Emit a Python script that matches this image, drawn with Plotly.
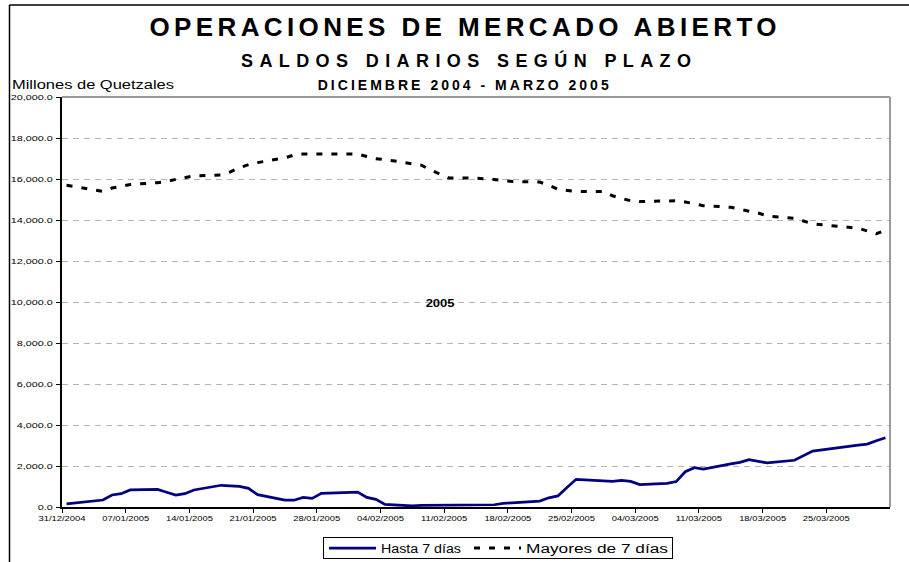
import plotly.graph_objects as go
import pandas as pd

# ---------------- data ----------------
dates = [
    "2004-12-31",
    "2005-01-03", "2005-01-04", "2005-01-05", "2005-01-06", "2005-01-07",
    "2005-01-10", "2005-01-11", "2005-01-12", "2005-01-13", "2005-01-14",
    "2005-01-17", "2005-01-18", "2005-01-19", "2005-01-20", "2005-01-21",
    "2005-01-24", "2005-01-25", "2005-01-26", "2005-01-27", "2005-01-28",
    "2005-01-31",
    "2005-02-01", "2005-02-02", "2005-02-03", "2005-02-04",
    "2005-02-07", "2005-02-08", "2005-02-09", "2005-02-10", "2005-02-11",
    "2005-02-14", "2005-02-15", "2005-02-16", "2005-02-17", "2005-02-18",
    "2005-02-21", "2005-02-22", "2005-02-23", "2005-02-24", "2005-02-25",
    "2005-02-28",
    "2005-03-01", "2005-03-02", "2005-03-03", "2005-03-04",
    "2005-03-07", "2005-03-08", "2005-03-09", "2005-03-10", "2005-03-11",
    "2005-03-14", "2005-03-15", "2005-03-16", "2005-03-17", "2005-03-18",
    "2005-03-21", "2005-03-22", "2005-03-23",
    "2005-03-28", "2005-03-29", "2005-03-30", "2005-03-31",
]

hasta = [
    150,
    295, 340, 585, 650, 830,
    860, 720, 585, 650, 830,
    1060, 1040, 1010, 910, 600,
    340, 330, 470, 420, 670,
    715,
    730, 470, 375, 130,
    50, 80, 85, 90, 95,
    100, 100, 110, 180, 210,
    290, 450, 540, 950, 1350,
    1270,
    1250, 1300, 1250, 1090,
    1150, 1240, 1720, 1920, 1850,
    2100, 2180, 2310, 2230, 2150,
    2280, 2500, 2730,
    3020, 3070, 3230, 3380,
]

mayores = [
    15700,
    15450, 15400, 15560, 15660, 15730,
    15820, 15880, 15980, 16080, 16150,
    16200, 16350, 16550, 16700, 16800,
    17030, 17170, 17220, 17220, 17220,
    17250,
    17220, 17100, 16990, 16950,
    16760, 16670, 16440, 16230, 16050,
    16040, 16020, 15980, 15920, 15880,
    15850, 15700, 15500, 15430, 15390,
    15390,
    15180, 15050, 14940, 14900,
    14920, 14940, 14880, 14800, 14700,
    14620, 14530, 14440, 14340, 14200,
    14080, 13950, 13810,
    13600, 13480, 13330, 13500,
]

series_names = ["Hasta 7 días", "Mayores de 7 días"]

xtick_dates = [
    "2004-12-31", "2005-01-07", "2005-01-14", "2005-01-21", "2005-01-28",
    "2005-02-04", "2005-02-11", "2005-02-18", "2005-02-25", "2005-03-04",
    "2005-03-11", "2005-03-18", "2005-03-25",
]
xtick_labels = [
    "31/12/2004", "07/01/2005", "14/01/2005", "21/01/2005", "28/01/2005",
    "04/02/2005", "11/02/2005", "18/02/2005", "25/02/2005", "04/03/2005",
    "11/03/2005", "18/03/2005", "25/03/2005",
]
ytick_vals = [0, 2000, 4000, 6000, 8000, 10000, 12000, 14000, 16000, 18000, 20000]

title_text = "OPERACIONES DE MERCADO ABIERTO"
subtitle_text = "SALDOS DIARIOS SEGÚN PLAZO"
period_text = "DICIEMBRE 2004 - MARZO 2005"
unit_text = "Millones de Quetzales"
year_text = "2005"

# ---------------- layout geometry ----------------
W, H = 909, 562
L, R, T, B = 62, 19, 97, 55
PW = W - L - R
PH = H - T - B


def px(x):
    return (x - L) / PW


def py(y):
    return (H - B - y) / PH


FONT = "Arial, Liberation Sans, sans-serif"

# points sit in the middle of their day (Excel date axis)
x = pd.to_datetime(dates) + pd.Timedelta(hours=12)

fig = go.Figure()
fig.add_trace(go.Scatter(
    x=x, y=hasta, mode="lines", name=series_names[0],
    line=dict(color="#000080", width=2.75),
))
fig.add_trace(go.Scatter(
    x=x, y=mayores, mode="lines", name=series_names[1],
    line=dict(color="#000000", width=3, dash="6px,9px"),
))

annotations = [
    dict(text="<b>%s</b>" % title_text, x=px(463), y=py(27), font=dict(size=26)),
    dict(text="<b>%s</b>" % subtitle_text, x=px(466), y=py(61), font=dict(size=18)),
    dict(text="<b>%s</b>" % period_text, x=px(463), y=py(85), font=dict(size=14)),
    dict(text=unit_text, x=px(10), y=py(85), xanchor="left", align="left", font=dict(size=12)),
    dict(text="<b>%s</b>" % year_text, x=px(440), y=py(303), font=dict(size=10)),
]
for a in annotations:
    a.update(xref="paper", yref="paper", showarrow=False)
    a.setdefault("xanchor", "center")
    a["yanchor"] = "middle"
    a["font"].update(family=FONT, color="black")

shapes = [
    # plot-area border (top and right, grey)
    dict(type="line", xref="paper", yref="paper", x0=0, x1=1, y0=1, y1=1,
         line=dict(color="#9a9a9a", width=2)),
    dict(type="line", xref="paper", yref="paper", x0=1, x1=1, y0=0, y1=1,
         line=dict(color="#9a9a9a", width=2)),
    # chart-area border (left and top, black)
    dict(type="line", xref="paper", yref="paper", x0=px(9.5), x1=px(9.5), y0=py(5), y1=py(575),
         line=dict(color="black", width=1.5)),
    dict(type="line", xref="paper", yref="paper", x0=px(9.5), x1=px(925), y0=py(5), y1=py(5),
         line=dict(color="black", width=1.5)),
]

fig.update_layout(
    width=W, height=H,
    margin=dict(l=L, r=R, t=T, b=B, pad=0, autoexpand=False),
    paper_bgcolor="white", plot_bgcolor="white",
    font=dict(family=FONT, color="black"),
    showlegend=True,
    legend=dict(
        orientation="h",
        xref="container", yref="container",
        x=498 / W, xanchor="center", y=(H - 537) / H, yanchor="top",
        bordercolor="black", borderwidth=1, bgcolor="white",
        font=dict(size=12.5, family=FONT, color="black"),
        itemwidth=47,
    ),
    annotations=annotations,
    shapes=shapes,
    xaxis=dict(
        type="date",
        range=["2004-12-31", "2005-04-01"],
        tickmode="array", tickvals=xtick_dates, ticktext=xtick_labels,
        ticks="outside", ticklen=4, tickwidth=1, tickcolor="black",
        showline=True, linecolor="black", linewidth=1.5,
        showgrid=False, zeroline=False,
        tickfont=dict(size=7, family=FONT, color="black"),
    ),
    yaxis=dict(
        range=[0, 20000],
        tickmode="array", tickvals=ytick_vals, tickformat=",.1f",
        ticks="outside", ticklen=4, tickwidth=1, tickcolor="black",
        showline=True, linecolor="black", linewidth=1.5,
        showgrid=True, gridcolor="#b4b4b4", gridwidth=1, griddash="6px,5px",
        zeroline=False,
        tickfont=dict(size=7.5, family=FONT, color="black"),
        ticklabelstandoff=2,
    ),
)

post_script = """
document.body.style.margin = '0';
var gd = document.getElementById('{plot_id}');
function fit(sel, k){
  gd.querySelectorAll(sel).forEach(function(t){
    var w = t.getComputedTextLength();
    if (w > 0) { t.setAttribute('textLength', (w*k).toFixed(2)); t.setAttribute('lengthAdjust', 'spacingAndGlyphs'); }
  });
}
fit('.xtick text', 1.34);
fit('.ytick text', 1.44);
var targets = {
  'OPERACIONES DE MERCADO ABIERTO': [627, 'spacing'],
  'SALDOS DIARIOS SEGÚN PLAZO': [450, 'spacing'],
  'DICIEMBRE 2004 - MARZO 2005': [291, 'spacing'],
  'Millones de Quetzales': [162, 'spacingAndGlyphs'],
  '2005': [29, 'spacingAndGlyphs']
};
gd.querySelectorAll('.annotation-text').forEach(function(t){
  var v = targets[t.textContent];
  if (v) { t.setAttribute('textLength', v[0]); t.setAttribute('lengthAdjust', v[1]); }
});
// legend: wider (stretched) entries in a 350x22 box, as in the original
var leg = gd.querySelector('.legend');
if (leg) {
  var spec = [[80, 1], [142, 146]];
  leg.querySelectorAll('.traces').forEach(function(tr, i){
    var s = spec[i]; if (!s) return;
    var txt = tr.querySelector('.legendtext');
    if (txt) { txt.setAttribute('textLength', s[0]); txt.setAttribute('lengthAdjust', 'spacingAndGlyphs'); }
    tr.setAttribute('transform', 'translate(' + s[1] + ',11)');
  });
  var bg = leg.querySelector('rect.bg');
  if (bg) { bg.setAttribute('x', 0.5); bg.setAttribute('y', 0.5); bg.setAttribute('width', 349); bg.setAttribute('height', 21); }
  var sb = leg.querySelector('.scrollbox');
  if (sb) { sb.removeAttribute('clip-path'); sb.setAttribute('transform', 'translate(0,0)'); }
  leg.setAttribute('transform', 'translate(323,537)');
}
"""

fig.write_html("out.html", post_script=post_script, config={"displayModeBar": False})
